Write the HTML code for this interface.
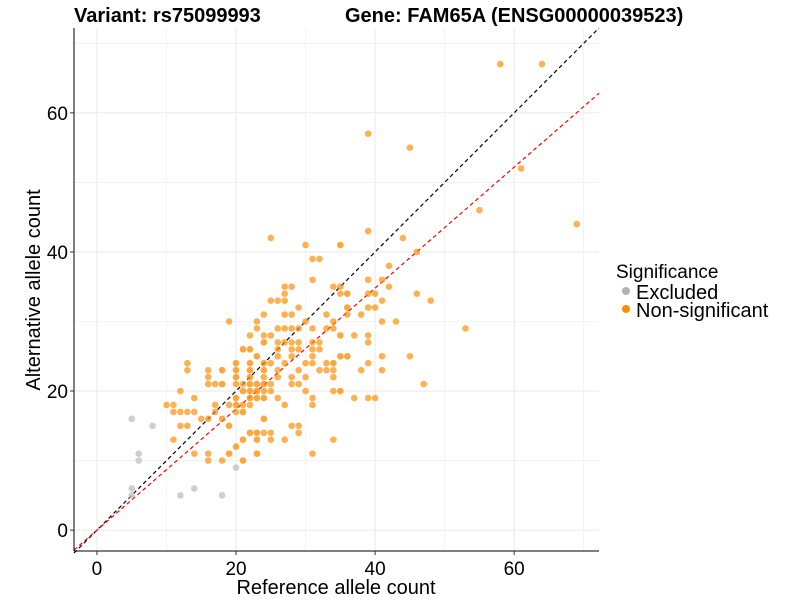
<!DOCTYPE html>
<html><head><meta charset="utf-8"><style>
body{margin:0;background:#fff;font-family:"Liberation Sans",Arial,sans-serif}
svg{display:block}
</style></head><body>
<svg id="chart" width="800" height="600" xmlns="http://www.w3.org/2000/svg">
<text x="74" y="22" font-size="20" font-weight="bold">Variant: rs75099993</text>
<text x="345" y="22" font-size="20" font-weight="bold">Gene: FAM65A (ENSG00000039523)</text>
<g id="grid"></g>
<g id="lines"></g>
<g id="pts"></g>
<line x1="74" y1="28" x2="74" y2="551" stroke="#000" stroke-width="1"/>
<line x1="74" y1="551" x2="599" y2="551" stroke="#000" stroke-width="1"/>
<g id="ticks"></g>
<text x="336" y="594" font-size="20" text-anchor="middle">Reference allele count</text>
<text transform="translate(40,290) rotate(-90)" font-size="20" text-anchor="middle">Alternative allele count</text>
<g>
<text x="616" y="278" font-size="19">Significance</text>
<circle cx="626" cy="291" r="4" fill="#b3b3b3"/>
<text x="636" y="299" font-size="20">Excluded</text>
<circle cx="626" cy="309" r="4" fill="#ff8c00"/>
<text x="636" y="317" font-size="20">Non-significant</text>
</g>
</svg>
<script>
const xTicks=[0,20,40,60];
const yTicks=[0,20,40,60];
const excludedX=[5,8,6,6,5,14,12,18,20,5];
const excludedY=[16,15,11,10,6,6,5,5,9,5];
const sigX=[21,22,24,13,13,16,18,20,20,22,22,24,23,24,16,20,22,16,17,18,20,22,23,24,12,21,22,23,14,20,22,23,24,10,11,17,20,21,11,12,13,14,17,20,21,15,16,18,24,12,13,19,22,23,24,11,21,23,20,14,16,19,23,16,18,21,
25,30,35,31,32,31,34,35,36,36,27,28,27,25,26,27,29,24,27,28,23,19,30,31,33,23,26,27,28,29,33,34,22,24,25,35,24,26,27,28,29,31,32,21,22,26,28,29,31,32,35,36,23,26,28,31,20,22,24,25,27,30,31,33,34,18,20,22,24,26,29,32,33,34,20,22,24,26,28,30,34,18,21,22,23,24,25,28,29,21,22,23,24,25,30,34,35,20,22,23,24,26,31,19,20,22,27,31,21,18,24,19,22,23,25,28,29,29,21,23,25,27,34,20,19,23,31,21,
39,35,44,46,42,39,41,42,35,36,39,40,46,41,48,36,39,40,36,38,41,43,34,53,35,37,39,39,35,36,41,45,39,38,41,47,34,35,37,39,40,58,64,39,45,61,55,69];
const sigY=[26,26,27,24,23,23,23,24,23,24,23,23,25,24,22,22,22,21,21,21,21,21,21,21,20,20,20,20,19,19,19,19,19,18,18,18,18,18,17,17,17,17,17,17,17,16,16,16,16,15,15,15,14,14,14,13,13,13,12,11,11,11,11,10,10,10,
42,41,41,39,39,36,35,34,34,32,35,35,34,33,33,33,32,31,31,31,30,30,30,29,31,29,29,29,29,29,29,29,28,28,28,28,27,27,27,27,27,27,27,26,26,26,26,26,26,26,25,25,25,25,25,25,24,24,24,24,24,24,24,24,24,23,23,23,23,23,23,23,23,23,22,22,22,22,22,22,22,21,21,21,21,21,21,21,21,20,20,20,20,20,20,20,20,19,19,19,19,19,19,18,18,18,18,18,17,16,16,15,14,14,14,15,15,14,13,13,13,13,13,12,11,11,11,10,
43,41,42,40,38,36,36,35,35,34,34,34,34,33,33,32,32,32,31,31,30,30,30,29,28,28,28,27,25,25,25,25,24,23,23,21,24,20,19,19,19,67,67,57,55,52,46,44];
const redSlope=0.87;
const NS="http://www.w3.org/2000/svg";
const X0=-3.3,X1=72.2,Y0=-3.0,Y1=72.2,L=74,R=599,T=28,B=551;
const sx=v=>L+(v-X0)/(X1-X0)*(R-L);
const sy=v=>B-(v-Y0)/(Y1-Y0)*(B-T);
function mk(t,a,p){const e=document.createElementNS(NS,t);for(const k in a)e.setAttribute(k,a[k]);p.appendChild(e);return e;}
const grid=document.getElementById('grid');
for(let v=0;v<=70;v+=10){
 const w=v%20===0?1.1:0.6;
 const gx=mk('line',{x1:sx(v),x2:sx(v),y1:T,y2:B,stroke:'#ebebeb','stroke-width':w},grid);
 
 
 const gy=mk('line',{x1:L,x2:R,y1:sy(v),y2:sy(v),stroke:'#ebebeb','stroke-width':w},grid);
 
 
}
const lines=document.getElementById('lines');
const bl=mk('line',{x1:sx(-3.3),y1:sy(-3.3),x2:sx(72.2),y2:sy(72.2),stroke:'#000','stroke-width':1.2,'stroke-dasharray':'4,3'},lines);


const rl=mk('line',{x1:sx(-3.3),y1:sy(-3.3*redSlope),x2:sx(72.2),y2:sy(72.2*redSlope),stroke:'#ff0000','stroke-width':1.2,'stroke-dasharray':'4,3'},lines);


const pts=document.getElementById('pts');
excludedX.forEach((x,i)=>{
 const c=mk('circle',{cx:sx(x),cy:sy(excludedY[i]),r:3.3,fill:'#bebebe','fill-opacity':0.75},pts);
 
 
});
const seen={};
sigX.forEach((x,i)=>{
 const key=x+','+sigY[i];
 const dup=seen[key];
 seen[key]=1;
 const c=mk('circle',{cx:sx(x),cy:sy(sigY[i]),r:3.3,fill:'#ff8c00','fill-opacity':dup?0.25:0.68},pts);
 
 
});
const ticks=document.getElementById('ticks');
xTicks.forEach(v=>{
 mk('line',{x1:sx(v),x2:sx(v),y1:B,y2:B+4,stroke:'#333'},ticks);
 const t=mk('text',{x:sx(v),y:B+24,'font-size':19,'text-anchor':'middle',fill:'#000'},ticks);
 t.textContent=v;
 
 
});
yTicks.forEach(v=>{
 mk('line',{x1:L-4,x2:L,y1:sy(v),y2:sy(v),stroke:'#333'},ticks);
 const t=mk('text',{x:L-6,y:sy(v)+7,'font-size':19,'text-anchor':'end',fill:'#000'},ticks);
 t.textContent=v;
 
 
});
</script>
</body></html>
